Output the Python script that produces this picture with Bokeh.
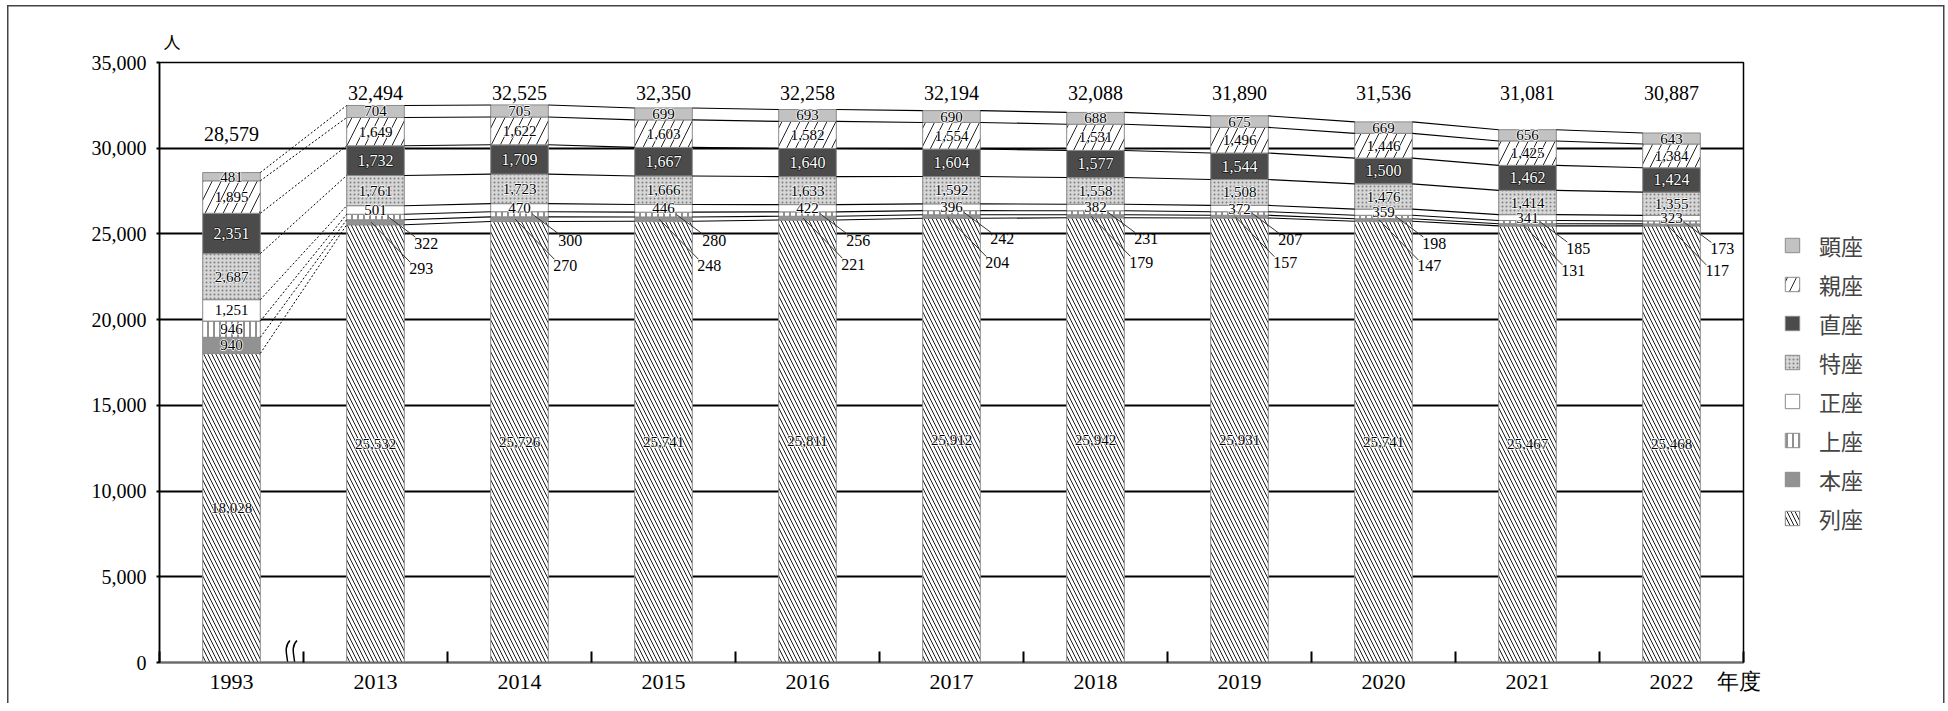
import numpy as np
from bokeh.plotting import figure
from bokeh.models import (Range1d, FixedTicker, NumeralTickFormatter, Legend, LegendItem,
                          ColumnDataSource)
from bokeh.core.properties import value
from bokeh.embed import file_html
from bokeh.resources import INLINE

# ---------------- data ----------------
years = ["1993", "2013", "2014", "2015", "2016", "2017", "2018", "2019", "2020", "2021", "2022"]
series = ["列座", "本座", "上座", "正座", "特座", "直座", "親座", "顕座"]
retsuza = [18028, 25532, 25726, 25741, 25811, 25912, 25942, 25931, 25741, 25467, 25468]
honza   = [940, 293, 270, 248, 221, 204, 179, 157, 147, 131, 117]
joza    = [946, 322, 300, 280, 256, 242, 231, 207, 198, 185, 173]
seiza   = [1251, 501, 470, 446, 422, 396, 382, 372, 359, 341, 323]
tokuza  = [2687, 1761, 1723, 1666, 1633, 1592, 1558, 1508, 1476, 1414, 1355]
jikiza  = [2351, 1732, 1709, 1667, 1640, 1604, 1577, 1544, 1500, 1462, 1424]
shinza  = [1895, 1649, 1622, 1603, 1582, 1554, 1531, 1496, 1446, 1425, 1384]
kenza   = [481, 704, 705, 699, 693, 690, 688, 675, 669, 656, 643]
y_ticks = [0, 5000, 10000, 15000, 20000, 25000, 30000, 35000]
y_unit = "人"
x_unit = "年度"

values = [retsuza, honza, joza, seiza, tokuza, jikiza, shinza, kenza]

# ---------------- styles ----------------
styles = {
    "列座": dict(fill_color="white", hatch_pattern="\\", hatch_scale=8, hatch_color="#1a1a1a", hatch_weight=1),
    "本座": dict(fill_color="#929292", hatch_pattern=None),
    "上座": dict(fill_color="white", hatch_pattern="|", hatch_scale=6, hatch_color="#222", hatch_weight=1),
    "正座": dict(fill_color="white", hatch_pattern=None),
    "特座": dict(fill_color="#d6d6d6", hatch_pattern=".", hatch_scale=4, hatch_color="#808080", hatch_weight=1),
    "直座": dict(fill_color="#4b4b4b", hatch_pattern=None),
    "親座": dict(fill_color="white", hatch_pattern="/", hatch_scale=18, hatch_color="#222", hatch_weight=1),
    "顕座": dict(fill_color="#c2c2c2", hatch_pattern=None),
}

SERIF = value("Liberation Serif")
FW, FH = 1584, 600
YMAX = 35000
n = len(years)
PXU = FH / YMAX          # px per y unit
PXX = FW / n             # px per x unit
BW = 0.4
xc = np.arange(n) + 0.5

p = figure(frame_width=FW, frame_height=FH, x_range=Range1d(0, n), y_range=Range1d(0, YMAX),
           output_backend="svg", toolbar_location=None,
           min_border_left=159, min_border_right=203, min_border_top=62, min_border_bottom=41)
line = "linear-gradient(#444,#444)"
p.styles = {"background": (f"{line} 7px 5px / 1.5px 100% no-repeat, "
                           f"{line} 7px 5px / 1937px 1.5px no-repeat, "
                           f"{line} 1943px 5px / 1.5px 100% no-repeat, white")}
p.background_fill_color = "white"
p.border_fill_color = None
p.outline_line_color = "black"
p.outline_line_width = 1.5

# "人" as the title, just above the frame on the left
p.title.text = y_unit
p.title.align = "left"
p.title.offset = 4
p.title.standoff = 18
p.title.text_font = "Noto Sans CJK JP"
p.title.text_font_size = "17px"
p.title.text_font_style = "normal"
p.title.text_color = "black"

# grid
p.xgrid.visible = False
p.ygrid.ticker = FixedTicker(ticks=y_ticks)
p.ygrid.grid_line_color = "black"
p.ygrid.grid_line_width = 2

# y axis
ya = p.yaxis[0]
ya.ticker = FixedTicker(ticks=y_ticks)
ya.formatter = NumeralTickFormatter(format="0,0")
ya.major_label_text_font = "Liberation Serif"
ya.major_label_text_font_size = "20px"
ya.major_label_text_color = "black"
ya.major_tick_out = 3
ya.major_tick_in = 0
ya.major_tick_line_width = 2
ya.minor_tick_line_color = None
ya.major_label_standoff = 10
ya.axis_line_color = "black"
ya.axis_line_width = 1.5

# x axis (category labels at bar centres, minor ticks on the boundaries, unit "年度" at the end)
x_unit_pos = n - 5 / PXX
xa = p.xaxis[0]
xa.ticker = FixedTicker(ticks=list(xc) + [x_unit_pos], minor_ticks=list(range(n + 1)))
overrides = {float(x): y for x, y in zip(xc, years)}
overrides[float(x_unit_pos)] = x_unit
xa.major_label_overrides = overrides
xa.major_label_text_font = "Liberation Serif"
xa.major_label_text_font_size = "22px"
xa.major_label_text_color = "black"
xa.major_tick_in = 0
xa.major_tick_out = 0
xa.minor_tick_in = 11
xa.minor_tick_out = 0
xa.minor_tick_line_color = "black"
xa.minor_tick_line_width = 2
xa.major_label_standoff = 6
xa.axis_line_color = "#6a6a6a"
xa.axis_line_width = 2

# ---------------- bars ----------------
cum = np.zeros(n)
renderers = {}
tops = []
mids = []
for name, vals in zip(series, values):
    v = np.array(vals, dtype=float)
    st = styles[name]
    src = ColumnDataSource(dict(x=xc, bottom=cum.copy(), top=cum + v))
    kw = dict(fill_color=st["fill_color"], line_color="#8a8a8a", line_width=1)
    if st.get("hatch_pattern"):
        kw.update(hatch_pattern=st["hatch_pattern"], hatch_scale=st["hatch_scale"],
                  hatch_color=st["hatch_color"], hatch_weight=st["hatch_weight"])
    r = p.vbar(x="x", bottom="bottom", top="top", width=BW, source=src, **kw)
    renderers[name] = r
    mids.append(cum + v / 2)
    cum = cum + v
    tops.append(cum.copy())
totals = cum

# ---------------- connecting lines ----------------
dx0, dx1, dy0, dy1 = [], [], [], []
sx0, sx1, sy0, sy1 = [], [], [], []
for t in tops:
    for i in range(n - 1):
        a = (xc[i] + BW / 2, xc[i + 1] - BW / 2, t[i], t[i + 1])
        if i == 0:
            dx0.append(a[0]); dx1.append(a[1]); dy0.append(a[2]); dy1.append(a[3])
        else:
            sx0.append(a[0]); sx1.append(a[1]); sy0.append(a[2]); sy1.append(a[3])
p.segment(x0=dx0, x1=dx1, y0=dy0, y1=dy1, line_color="black", line_width=1, line_dash="2 2")
p.segment(x0=sx0, x1=sx1, y0=sy0, y1=sy1, line_color="black", line_width=1.1)

# ---------------- segment labels ----------------
in_x, in_y, in_t = [], [], []
dk_x, dk_y, dk_t = [], [], []
out_x, out_y, out_t = [], [], []
lx0, lx1, ly0, ly1 = [], [], [], []
for k, (name, vals) in enumerate(zip(series, values)):
    for i in range(n):
        v = vals[i]
        txt = f"{v:,}"
        m = mids[k][i]
        if name in ("本座", "上座") and v < 400:
            if name == "上座":
                lx = xc[i] + BW / 2 + 22 / PXX
                ly = m - 26 / PXU
                sx = xc[i] + 0.09
            else:
                lx = xc[i] + BW / 2 + 17 / PXX
                ly = m - 46 / PXU
                sx = xc[i] - 0.03
            out_x.append(lx); out_y.append(ly); out_t.append(txt)
            lx0.append(sx); ly0.append(m)
            lx1.append(lx - 11 / PXX); ly1.append(ly + 6 / PXU)
        elif name == "直座":
            dk_x.append(xc[i]); dk_y.append(m); dk_t.append(txt)
        else:
            in_x.append(xc[i]); in_y.append(m); in_t.append(txt)

p.segment(x0=lx0, x1=lx1, y0=ly0, y1=ly1, line_color="#333", line_width=1)
common = dict(text_font=SERIF, text_align="center", text_baseline="middle")
# halo layer + text layer
p.text(x=in_x, y=in_y, text=in_t, text_font_size="15px", text_color="white",
       text_outline_color="white", **common)
p.text(x=in_x, y=in_y, text=in_t, text_font_size="15px", text_color="black", **common)
p.text(x=dk_x, y=dk_y, text=dk_t, text_font_size="16px", text_color="#111",
       text_outline_color="#111", **common)
p.text(x=dk_x, y=dk_y, text=dk_t, text_font_size="16px", text_color="white", **common)
p.text(x=out_x, y=out_y, text=out_t, text_font_size="16px", text_color="black", **common)

# totals
tot_y = [totals[0] + 39 / PXU] + [max(totals[1:]) + 12 / PXU] * (n - 1)
p.text(x=xc, y=tot_y, text=[f"{int(t):,}" for t in totals], text_font_size="20px",
       text_color="black", **common)

# axis break mark (two wavy strokes between 1993 and 2013)
bx = 1 - 13 / PXX
gap = 7 / PXX
top_v, bot_v = 22 / PXU, -12 / PXU
bxs = [bx - gap / 2, bx + gap / 2]
p.bezier(x0=[b + 3 / PXX for b in bxs], y0=[top_v] * 2,
         x1=[b - 3 / PXX for b in bxs], y1=[bot_v] * 2,
         cx0=[b - 7 / PXX for b in bxs], cy0=[top_v - 10 / PXU] * 2,
         cx1=[b + 7 / PXX for b in bxs], cy1=[bot_v + 10 / PXU] * 2,
         line_color="black", line_width=1.5)

# legend
items = [LegendItem(label=name, renderers=[renderers[name]]) for name in reversed(series)]
legend = Legend(items=items, location=(40, 128), orientation="vertical",
                label_text_font="Noto Sans CJK JP", label_text_font_size="22px",
                glyph_width=18, glyph_height=18, label_standoff=18, spacing=7,
                padding=0, margin=0, border_line_color=None, background_fill_alpha=0)
p.add_layout(legend, "right")

open("out.html", "w").write(file_html(p, INLINE))
